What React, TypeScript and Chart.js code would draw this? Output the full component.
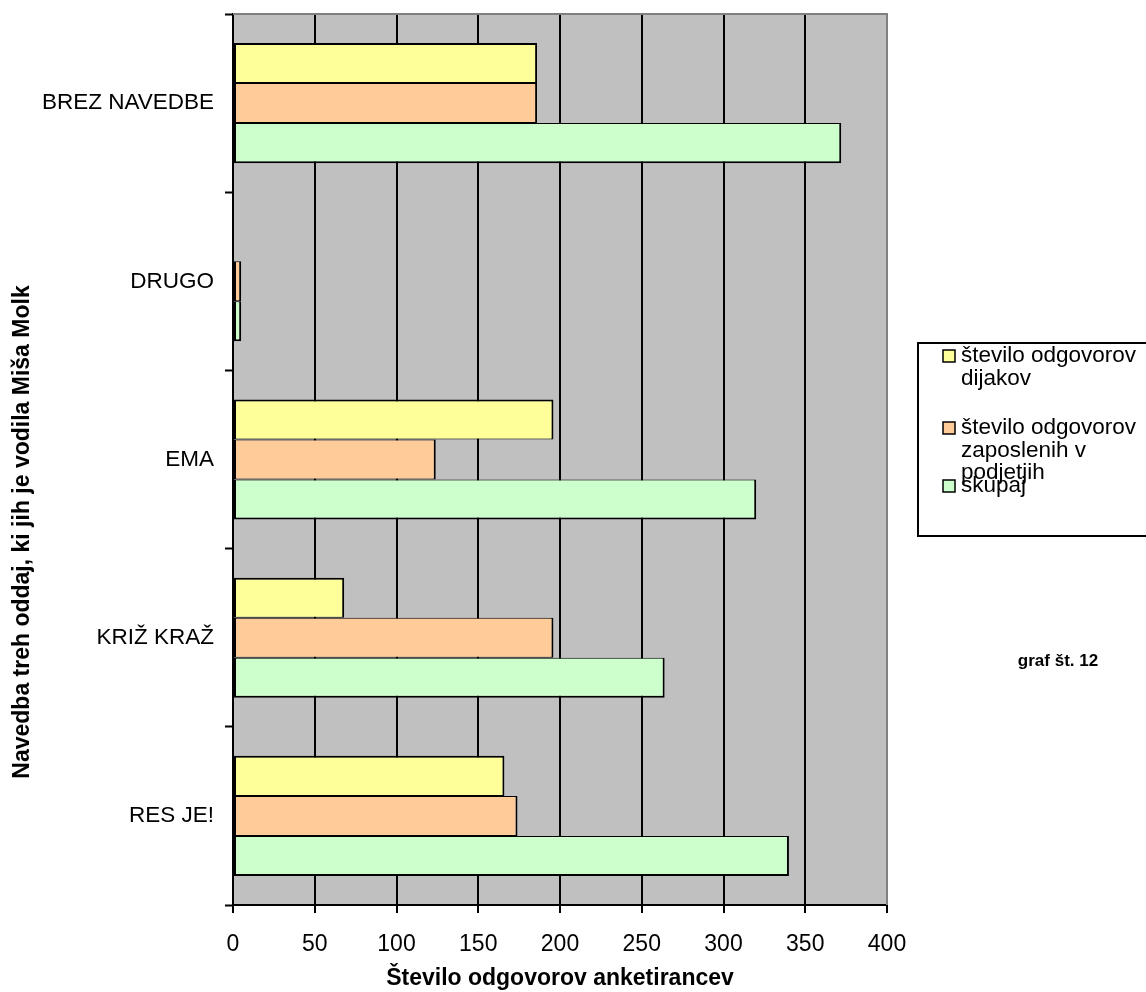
import React, { useEffect, useRef } from "react";
import { Chart, registerables } from "chart.js";

Chart.register(...registerables);

const categories = ["BREZ NAVEDBE", "DRUGO", "EMA", "KRIŽ KRAŽ", "RES JE!"];
const dijaki = [186, 0, 196, 68, 166];
const zaposleni = [186, 5, 124, 196, 174];
const skupaj = [372, 5, 320, 264, 340];
const seriesLabels = [
  "število odgovorov dijakov",
  "število odgovorov zaposlenih v podjetjih",
  "skupaj",
];
const legendLines = [
  ["število odgovorov", "dijakov"],
  ["število odgovorov", "zaposlenih v", "podjetjih"],
  ["skupaj"],
];
const seriesColors = ["#FFFF99", "#FFCC99", "#CCFFCC"];
const xTicks = [0, 50, 100, 150, 200, 250, 300, 350, 400];
const yTitle = "Navedba treh oddaj, ki jih je vodila Miša Molk";
const xTitle = "Število odgovorov anketirancev";
const noteText = "graf št. 12";

const FONT = "'Liberation Sans', Arial, Helvetica, sans-serif";

const decorPlugin = {
  id: "decor",
  beforeDraw(chart: any) {
    const { ctx, chartArea } = chart;
    ctx.save();
    ctx.fillStyle = "#FFFFFF";
    ctx.fillRect(0, 0, chart.width, chart.height);
    ctx.fillStyle = "#C0C0C0";
    ctx.fillRect(chartArea.left, chartArea.top, chartArea.right - chartArea.left, chartArea.bottom - chartArea.top);
    ctx.restore();
  },
  afterDraw(chart: any) {
    const { ctx, chartArea } = chart;
    ctx.save();
    // top & right plot border
    ctx.strokeStyle = "#808080";
    ctx.lineWidth = 2;
    ctx.beginPath();
    ctx.moveTo(chartArea.left, chartArea.top);
    ctx.lineTo(chartArea.right, chartArea.top);
    ctx.lineTo(chartArea.right, chartArea.bottom);
    ctx.stroke();

    // y title
    ctx.fillStyle = "#000";
    ctx.font = `bold 23px ${FONT}`;
    ctx.textAlign = "center";
    ctx.textBaseline = "middle";
    ctx.save();
    ctx.translate(23, 532);
    ctx.rotate(-Math.PI / 2);
    ctx.fillText(yTitle, 0, 0);
    ctx.restore();

    // x title
    ctx.fillText(xTitle, (chartArea.left + chartArea.right) / 2, 979);

    // note
    ctx.font = `bold 17px ${FONT}`;
    ctx.fillText(noteText, 1058, 661);

    // legend
    ctx.strokeStyle = "#000";
    ctx.lineWidth = 2;
    ctx.strokeRect(918, 343, 260, 193);
    const lineYs = [[356, 379], [428, 451, 473], [486]];
    ctx.font = `22.5px ${FONT}`;
    ctx.textAlign = "left";
    legendLines.forEach((lines, i) => {
      const ys = lineYs[i];
      ctx.fillStyle = seriesColors[i];
      ctx.fillRect(943, ys[0] - 6, 12, 12);
      ctx.lineWidth = 1.5;
      ctx.strokeRect(943, ys[0] - 6, 12, 12);
      ctx.fillStyle = "#000";
      lines.forEach((t, j) => ctx.fillText(t, 961, ys[j]));
    });
    ctx.restore();
  },
};

export default function App() {
  const ref = useRef<HTMLCanvasElement | null>(null);
  useEffect(() => {
    document.body.style.margin = "0";
    const data = [dijaki, zaposleni, skupaj];
    const n = data.length;
    const chart = new Chart(ref.current as HTMLCanvasElement, {
      type: "bar",
      data: {
        labels: categories,
        datasets: data.map((d, i) => ({
          label: seriesLabels[i],
          data: d,
          backgroundColor: seriesColors[i],
          borderColor: "#000",
          borderWidth: { top: i === 0 ? 2 : 1, bottom: i === n - 1 ? 2 : 1, left: 2, right: 2 },
          borderSkipped: false,
          categoryPercentage: 0.674,
          barPercentage: 1,
        })),
      },
      options: {
        indexAxis: "y",
        animation: false,
        responsive: true,
        maintainAspectRatio: false,
        layout: { padding: { top: 14, right: 259, left: 0, bottom: 0 } },
        plugins: { legend: { display: false }, tooltip: { enabled: false } },
        scales: {
          x: {
            min: 0,
            max: 400,
            afterFit: (s: any) => { s.height = 87; },
            afterBuildTicks: (s: any) => { s.ticks = xTicks.map((v) => ({ value: v })); },
            ticks: { color: "#000", font: { family: FONT, size: 23 }, padding: 18, maxRotation: 0 },
            grid: {
              color: (c: any) => (c.tick && c.tick.value === 400 ? "#808080" : "#000"),
              lineWidth: 2,
              tickColor: "#000",
              tickLength: 8,
              tickWidth: 2,
            },
            border: { color: "#000", width: 2 },
          },
          y: {
            afterFit: (s: any) => {
              s.width = 233;
              s.paddingTop = 0;
              s.paddingBottom = 0;
            },
            ticks: { color: "#000", font: { family: FONT, size: 22.5 }, padding: 11 },
            grid: {
              drawOnChartArea: false,
              offset: true,
              tickLength: 8,
              tickColor: "#000",
              tickWidth: 2,
              color: "#000",
            },
            border: { color: "#000", width: 2 },
          },
        },
      },
      plugins: [decorPlugin],
    });
    return () => chart.destroy();
  }, []);
  return (
    <div style={{ width: 1146, height: 992, position: "relative" }}>
      <canvas ref={ref} />
    </div>
  );
}
